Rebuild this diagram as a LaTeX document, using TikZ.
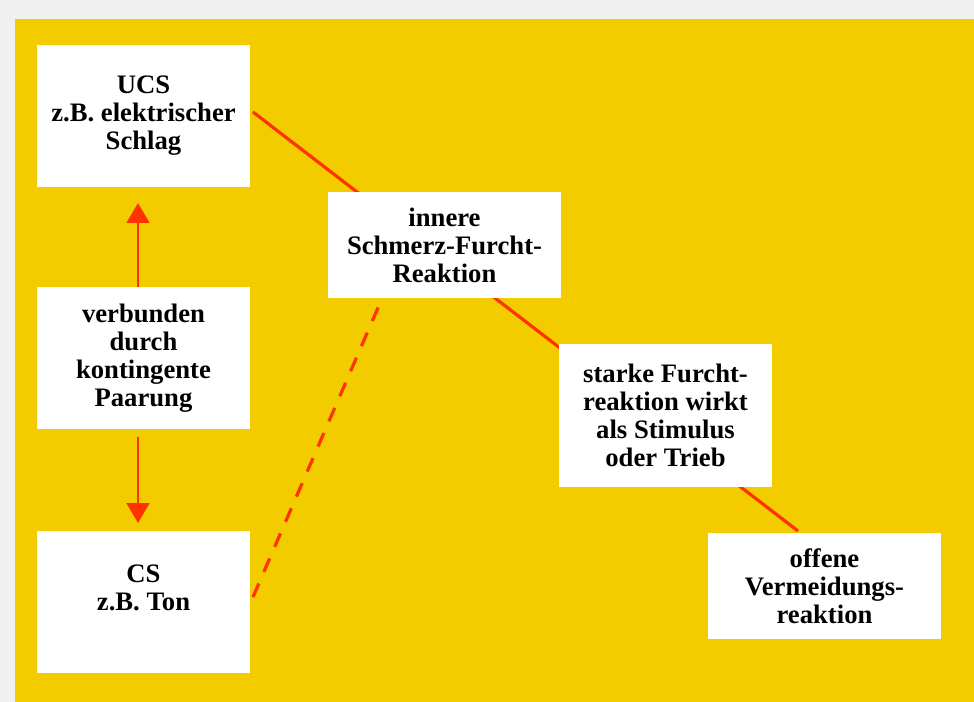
\documentclass[tikz,border=0pt]{standalone}
\usepackage{fontspec}
\setmainfont{Liberation Serif}
\usepackage{tikz}
\usetikzlibrary{arrows.meta,backgrounds}
\definecolor{gelb}{RGB}{243,204,0}
\definecolor{rot}{RGB}{255,51,0}
\definecolor{rand}{RGB}{240,240,240}

\begin{document}
\begin{tikzpicture}[x=0.75pt, y=-0.75pt, font=\fontsize{20}{21}\selectfont\bfseries,
    box/.style = {fill=white, align=center, inner sep=0pt, outer sep=0pt, minimum width=159.75pt, minimum height=106.5pt},
    wide/.style = {box, minimum width=174.75pt, minimum height=79.5pt},
    link/.style = {draw=rot, line width=2.4pt},
    arr/.style = {draw=rot, line width=2.2pt, -{Triangle[width=17pt, length=15pt]}}]
                \useasboundingbox (0,0) rectangle (974,702);
                \node[box] (ucs) at (143.5,116) {UCS\\z.B. elektrischer\\Schlag};
                \node[box] (verb) at (143.5,358) {verbunden\\durch\\kontingente\\Paarung};
                \node[box] (cs) at (143.5,602) {CS\\z.B. Ton\\~};
                \node[wide] (inner) at (444.5,245) {innere\\Schmerz-Furcht-\\Reaktion};
                \node[box, minimum height=107.25pt] (furcht) at (665.5,415.5) {starke Furcht-\\reaktion wirkt\\als Stimulus\\oder Trieb};
                \node[wide] (offen) at (824.5,586) {offene\\Vermeidungs-\\reaktion};
                \draw[arr, shorten >=12pt] ([shift={(-5.5,0)}]verb.north) -- ([shift={(-5.5,0)}]ucs.south);
                \draw[arr, shorten <=6pt, shorten >=6pt] ([shift={(-5.5,0)}]verb.south) -- ([shift={(-5.5,0)}]cs.north);
                \begin{scope}[on background layer]
                    \fill[rand] (0,0) rectangle (974,702);
                    \fill[gelb] (15,19) rectangle (974,702);
                    \draw[link] ([shift={(3,-4)}]ucs.east) -- ([shift={(-26.5,-2)}]offen.north);
                    \draw[link, dash pattern=on 11pt off 9.5pt] ([shift={(3,-5)}]cs.east) -- ([shift={(-64,4)}]inner.south);
                \end{scope}
            \end{tikzpicture}
\end{document}
